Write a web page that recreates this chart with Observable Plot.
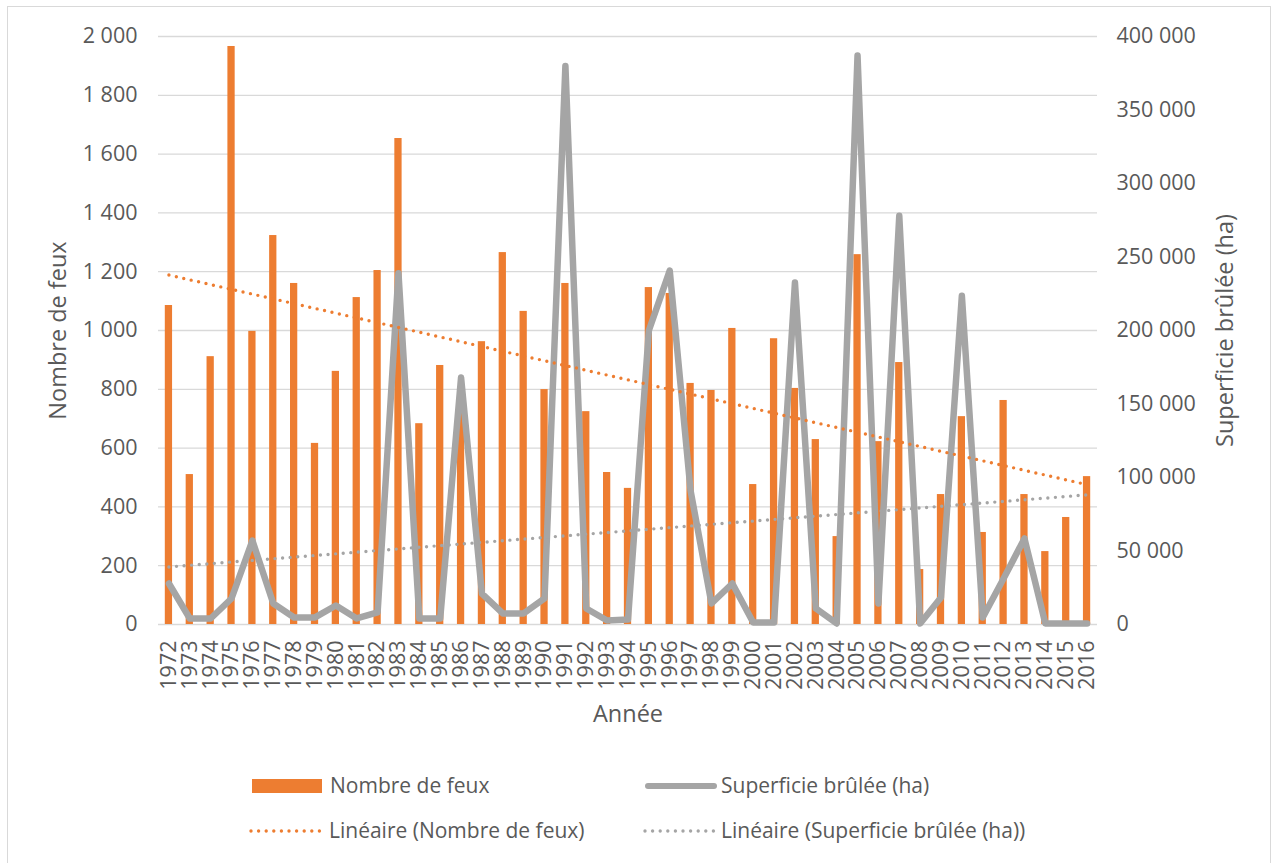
<!DOCTYPE html>
<html>
<head>
<meta charset="utf-8">
<script src="https://cdn.jsdelivr.net/npm/d3@7"></script>
<script src="https://cdn.jsdelivr.net/npm/@observablehq/plot@0.6"></script>
<style>
  html, body { margin: 0; padding: 0; background: #fff; }
  #wrap { position: relative; width: 1273px; height: 863px; overflow: hidden; font-family: "Open Sans", sans-serif; color: #595959; }
  #border { position: absolute; left: 7px; top: 6px; width: 1264px; height: 900px; border: 1px solid #d9d9d9; box-sizing: border-box; }
  #chart { position: absolute; left: 0; top: 0; }
  .leg { position: absolute; font-size: 21px; line-height: 28px; white-space: nowrap; }
  .sw { position: absolute; }
</style>
</head>
<body>
<div id="wrap">
  <div id="border"></div>
  <div id="chart"></div>
  <div id="legend"></div>
</div>
<script>
const years = [1972,1973,1974,1975,1976,1977,1978,1979,1980,1981,1982,1983,1984,1985,1986,1987,1988,1989,1990,1991,1992,1993,1994,1995,1996,1997,1998,1999,2000,2001,2002,2003,2004,2005,2006,2007,2008,2009,2010,2011,2012,2013,2014,2015,2016];
const nombreFeux = [1085,510,911,1966,997,1323,1160,616,861,1112,1204,1653,683,881,718,962,1265,1065,799,1160,724,517,463,1146,1126,820,796,1007,476,972,803,629,299,1258,622,891,187,442,707,313,762,442,248,364,503];
const superficieHa = [27900,4100,4100,17700,57100,14300,4800,4800,12900,4100,8200,239000,4100,4100,168000,21000,7500,7500,17700,380000,10900,2700,3400,200000,240700,91000,14300,27900,1400,1400,232600,10900,700,387000,14300,278000,700,18400,223700,4800,31300,58500,700,700,700];
const leftTicks = [0,200,400,600,800,1000,1200,1400,1600,1800,2000];
const rightTicks = [0,50000,100000,150000,200000,250000,300000,350000,400000];
const labelLeft = "Nombre de feux";
const labelRight = "Superficie brûlée (ha)";
const labelX = "Année";
const legendLabels = ["Nombre de feux", "Superficie brûlée (ha)", "Linéaire (Nombre de feux)", "Linéaire (Superficie brûlée (ha))"];

const ORANGE = "#ED7D31", GRAY = "#A5A5A5", TEXT = "#595959", GRID = "#d9d9d9";
const ratio = 200; // ha per fire unit (400 000 / 2 000)

const data = years.map((y, i) => ({year: y, feux: nombreFeux[i], ha: superficieHa[i], haScaled: superficieHa[i] / ratio}));
const loc = d3.formatLocale({decimal: ",", thousands: " ", grouping: [3], currency: ["", ""]});
const fmt = loc.format(",");

const W = 1273, H = 760;
const dots = {strokeWidth: 3.4, strokeDasharray: "0 7.6", strokeLinecap: "round"};
const TITLE = 23.5;

const chart = Plot.plot({
  width: W,
  height: H,
  marginTop: 36,
  marginLeft: 158,
  marginRight: 176,
  marginBottom: H - 624,
  style: {fontFamily: "Open Sans, sans-serif", fontSize: "21.5px", color: TEXT, background: "transparent"},
  x: {type: "linear", domain: [1971.5, 2016.5]},
  y: {domain: [0, 2000]},
  marks: [
    Plot.ruleY(leftTicks, {stroke: GRID, strokeWidth: 1.3}),
    Plot.rectY(data, {x1: d => d.year - 0.5, x2: d => d.year + 0.5, y: "feux", fill: ORANGE, insetLeft: 6.8, insetRight: 6.8}),
    Plot.line(data, {x: "year", y: "haScaled", stroke: GRAY, strokeWidth: 6.5, strokeLinejoin: "round", strokeLinecap: "round"}),
    Plot.linearRegressionY(data, {x: "year", y: "feux", stroke: ORANGE, ci: 0, ...dots}),
    Plot.linearRegressionY(data, {x: "year", y: "haScaled", stroke: GRAY, ci: 0, ...dots}),
    Plot.axisX({ticks: years, tickFormat: d => String(d), tickRotate: -90, tickSize: 0, tickPadding: 16, label: null, fill: TEXT}),
    Plot.axisY({ticks: leftTicks, tickFormat: fmt, tickSize: 0, tickPadding: 21, label: null, fill: TEXT}),
    Plot.axisY({anchor: "right", ticks: rightTicks.map(v => v / ratio), tickFormat: d => fmt(Math.round(d * ratio)), tickSize: 0, tickPadding: 19, textAnchor: "start", label: null, fill: TEXT}),
    Plot.text([labelLeft], {frameAnchor: "left", dx: -100, rotate: -90, textAnchor: "middle", fill: TEXT, fontSize: TITLE}),
    Plot.text([labelRight], {frameAnchor: "right", dx: 128, rotate: -90, textAnchor: "middle", fill: TEXT, fontSize: TITLE}),
    Plot.text([labelX], {frameAnchor: "bottom", dy: 90, lineAnchor: "middle", fill: TEXT, fontSize: TITLE})
  ]
});
document.getElementById("chart").appendChild(chart);

// Legend
const legend = document.getElementById("legend");
function addText(txt, left, cy) {
  const d = document.createElement("div");
  d.className = "leg";
  d.textContent = txt;
  d.style.left = left + "px";
  d.style.top = (cy - 15) + "px";
  legend.appendChild(d);
}
function addRect(left, cy, w, h, color, radius) {
  const d = document.createElement("div");
  d.className = "sw";
  d.style.left = left + "px";
  d.style.top = (cy - h / 2) + "px";
  d.style.width = w + "px";
  d.style.height = h + "px";
  d.style.background = color;
  d.style.borderRadius = radius + "px";
  legend.appendChild(d);
}
function addDotted(left, cy, w, color) {
  const ns = "http://www.w3.org/2000/svg";
  const s = document.createElementNS(ns, "svg");
  s.setAttribute("width", w + 6);
  s.setAttribute("height", 10);
  s.style.position = "absolute";
  s.style.left = (left - 3) + "px";
  s.style.top = (cy - 5) + "px";
  const l = document.createElementNS(ns, "line");
  l.setAttribute("x1", 3); l.setAttribute("x2", w + 3);
  l.setAttribute("y1", 5); l.setAttribute("y2", 5);
  l.setAttribute("stroke", color);
  l.setAttribute("stroke-width", 3.4);
  l.setAttribute("stroke-dasharray", "0 7.6");
  l.setAttribute("stroke-linecap", "round");
  s.appendChild(l);
  legend.appendChild(s);
}
addRect(252, 786, 70, 14, ORANGE, 0);
addText(legendLabels[0], 330, 786);
addRect(645, 786, 72, 6, GRAY, 3);
addText(legendLabels[1], 721, 786);
addDotted(251, 831, 69, ORANGE);
addText(legendLabels[2], 329, 831);
addDotted(645, 831, 69, GRAY);
addText(legendLabels[3], 721, 831);
</script>
</body>
</html>
